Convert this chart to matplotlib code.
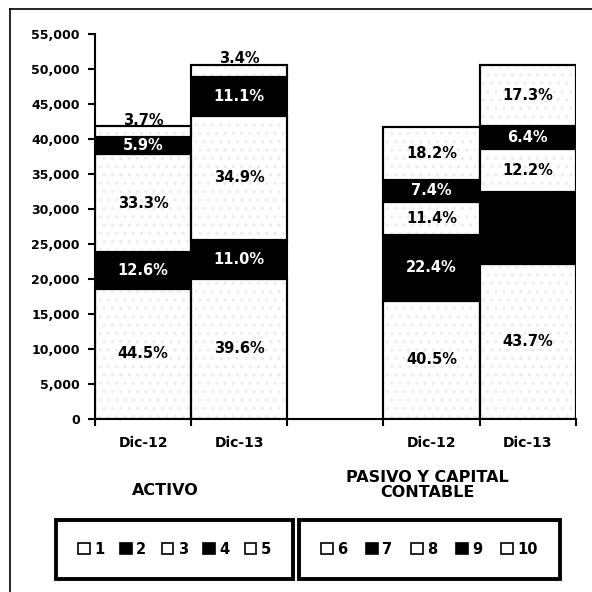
import matplotlib.pyplot as plt
from matplotlib.patches import Patch
from matplotlib.lines import Line2D
from matplotlib.ticker import FuncFormatter

# bar data (percent of total balance per segment, bottom to top)
bar_labels = ["Dic-12", "Dic-13", "Dic-12", "Dic-13"]
bar_pos = [0, 1, 3, 4]
totals = [41800, 50600, 41800, 50600]
activo_12 = [44.5, 12.6, 33.3, 5.9, 3.7]
activo_13 = [39.6, 11.0, 34.9, 11.1, 3.4]
pasivo_12 = [40.5, 22.4, 11.4, 7.4, 18.2]
pasivo_13 = [43.7, 20.4, 12.2, 6.4, 17.3]
shown_12 = [True, True, True, True, True]
shown_13p = [True, False, True, True, True]
legend_activo = ["1", "2", "3", "4", "5"]
legend_pasivo = ["6", "7", "8", "9", "10"]
group_names = ["ACTIVO", "PASIVO Y CAPITAL\nCONTABLE"]

bars = [activo_12, activo_13, pasivo_12, pasivo_13]
shown = [shown_12, shown_12, shown_12, shown_13p]
fills = ["white", "black", "white", "black", "white"]

fig = plt.figure(figsize=(5.92, 5.92), dpi=100)
ax = fig.add_axes([0.1605, 0.292, 0.812, 0.651])

for b in range(len(bars)):
    bottom = 0
    for i, pct in enumerate(bars[b]):
        val = totals[b] * pct / 100
        ax.bar(bar_pos[b], val, bottom=bottom, width=1.0, color=fills[i],
               edgecolor="black", linewidth=1.5, zorder=2)
        if fills[i] == "white":
            # faint speckle like the scanned fill
            ax.bar(bar_pos[b], val, bottom=bottom, width=1.0, fill=False,
                   hatch="..", edgecolor="#ececec", linewidth=0, zorder=2.5)
            ax.bar(bar_pos[b], val, bottom=bottom, width=1.0, fill=False,
                   edgecolor="black", linewidth=1.5, zorder=3)
        if shown[b][i]:
            txt_col = "white" if fills[i] == "black" else "black"
            if i == 4 and pct < 5:
                y = bottom + val + 800
            else:
                y = bottom + val / 2
            ax.text(bar_pos[b], y, "{:.1f}%".format(pct), ha="center", va="center",
                    fontsize=10.5, fontweight="bold", color=txt_col, zorder=4)
        bottom += val

ax.set_xlim(-0.5, 4.5)
ax.set_ylim(0, 55000)
ax.set_yticks(range(0, 55001, 5000))
ax.yaxis.set_major_formatter(FuncFormatter(lambda v, p: "{:,.0f}".format(v)))
ax.set_xticks([-0.5, 0.5, 1.5, 2.5, 3.5, 4.5])
ax.set_xticklabels([])
ax.set_xticks(bar_pos, minor=True)
ax.set_xticklabels(bar_labels, minor=True)
ax.tick_params(axis="x", which="minor", length=0, pad=12, labelsize=10)
ax.tick_params(axis="both", which="major", direction="out", length=5, width=1.5)
ax.tick_params(axis="y", labelsize=9, pad=6)
for lab in ax.get_yticklabels() + ax.get_xticklabels(minor=True):
    lab.set_fontweight("bold")
ax.spines["top"].set_visible(False)
ax.spines["right"].set_visible(False)
ax.spines["left"].set_linewidth(1.5)
ax.spines["bottom"].set_linewidth(1.5)

# group titles under the bars
fig.text(0.279, 0.171, group_names[0], ha="center", va="center",
         fontsize=11.5, fontweight="bold")
fig.text(0.722, 0.181, group_names[1], ha="center", va="center",
         fontsize=11.5, fontweight="bold", linespacing=1.0)

# two boxed legends
for names, x0, w in [(legend_activo, 0.083, 0.424), (legend_pasivo, 0.493, 0.465)]:
    handles = [Patch(facecolor=fills[i], edgecolor="black", linewidth=1.2) for i in range(5)]
    leg = fig.legend(handles, names, loc="center", ncol=5, mode="expand",
                     bbox_to_anchor=(x0, 0.072, w, 0.0), fancybox=False,
                     edgecolor="black", framealpha=1, borderpad=1.5, handlelength=0.8,
                     handleheight=0.8, handletextpad=0.3, columnspacing=0.8,
                     prop={"weight": "bold", "size": 10.5})
    leg.get_frame().set_linewidth(2.8)

# frame of the scanned page
fig.add_artist(Line2D([0.017, 1.0], [0.985, 0.985], color="black", linewidth=1.2))
fig.add_artist(Line2D([0.017, 0.017], [0.0, 0.985], color="black", linewidth=1.2))

fig.savefig("out.png", dpi=100)
